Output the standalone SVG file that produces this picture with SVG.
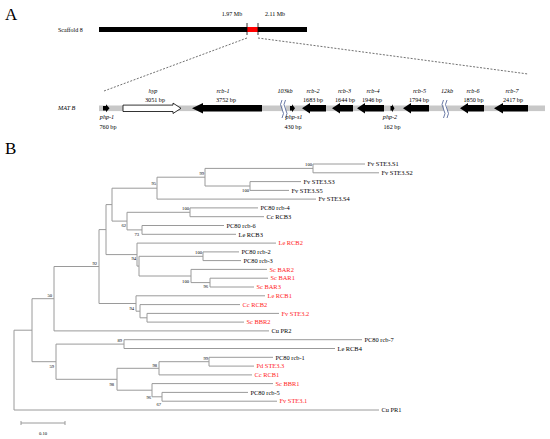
<svg xmlns="http://www.w3.org/2000/svg" width="550" height="439" viewBox="0 0 550 439">
<style>
text{font-family:"Liberation Serif","Times New Roman",serif;fill:#000}
.pl{font-size:17px}
.s{font-size:6px}
.g{font-size:6.2px}
.gi{font-size:6.2px;font-style:italic}
.lf{font-size:6.4px}
.red{fill:#ff1a1a}
.bs{font-size:4.6px;text-anchor:end}
.c{text-anchor:middle}
.tree{stroke:#9a9a9a;stroke-width:1;fill:none}
.blk{fill:#000}
.wave{stroke:#5a6b9c;stroke-width:0.9;fill:none}
</style>
<rect width="550" height="439" fill="#fff"/>

<g id="panelA">
  <text class="pl" x="5" y="20">A</text>
  <g id="scaffold">
    <text class="s" x="58" y="32">Scaffold 8</text>
    <rect x="99" y="27" width="208" height="5" fill="#000"/>
    <rect x="247" y="27" width="11" height="5" fill="#ff0000"/>
    <line x1="247" y1="23" x2="247" y2="35" stroke="#000" stroke-width="0.8"/>
    <line x1="258" y1="23" x2="258" y2="35" stroke="#000" stroke-width="0.8"/>
    <text class="s c" x="232" y="16">1.97 Mb</text>
    <text class="s c" x="275" y="16">2.11 Mb</text>
  </g>
  <g id="zoom-lines" stroke="#333" stroke-width="0.7" stroke-dasharray="2,1.5">
    <line x1="247" y1="38" x2="104" y2="91"/>
    <line x1="258" y1="38" x2="528" y2="74"/>
  </g>
  <g id="matb">
    <text class="gi" x="58" y="110">MAT B</text>
    <rect x="99" y="105.5" width="446" height="5.6" fill="#c8c8c8"/>
    <rect x="282.5" y="104" width="3" height="9" fill="#fff"/>
    <rect x="444" y="104" width="3" height="9" fill="#fff"/>
  </g>
  <g id="php-1">
    <polygon class="blk" points="103,106 106,106 106,104.3 109.5,108.3 106,112.3 106,110.6 103,110.6"/>
    <text class="gi c" x="107" y="119">php-1</text>
    <text class="g c" x="108" y="129">760 bp</text>
  </g>
  <g id="hyp">
    <polygon points="123,105.1 173,105.1 173,103.1 181,108.3 173,113.5 173,111.5 123,111.5" fill="#fff" stroke="#000" stroke-width="0.8"/>
    <text class="gi c" x="153" y="93">hyp</text>
    <text class="g c" x="155" y="102">3051 bp</text>
  </g>
  <g id="rcb-1">
    <polygon class="blk" points="192,108.3 203,103.1 203,105.1 262,105.1 262,111.5 203,111.5 203,113.5"/>
    <text class="gi c" x="223" y="93">rcb-1</text>
    <text class="g c" x="226" y="102">3752 bp</text>
  </g>
  <g id="gap-103kb">
    <path class="wave" d="M282,100 q-3,4.5 0,9 q3,4.5 0,9"/>
    <path class="wave" d="M285.5,100 q-3,4.5 0,9 q3,4.5 0,9"/>
    <text class="gi c" x="285" y="93">103kb</text>
  </g>
  <g id="php-s1">
    <polygon class="blk" points="290,106 292,106 292,104.3 295,108.3 292,112.3 292,110.6 290,110.6"/>
    <text class="gi c" x="294" y="119">php-s1</text>
    <text class="g c" x="293" y="129">430 bp</text>
  </g>
  <g id="rcb-2">
    <polygon class="blk" points="302,108.3 310,103.1 310,105.1 326,105.1 326,111.5 310,111.5 310,113.5"/>
    <text class="gi c" x="313" y="93">rcb-2</text>
    <text class="g c" x="313" y="102">1683 bp</text>
  </g>
  <g id="rcb-3">
    <polygon class="blk" points="332,108.3 340,103.1 340,105.1 353,105.1 353,111.5 340,111.5 340,113.5"/>
    <text class="gi c" x="344.5" y="93">rcb-3</text>
    <text class="g c" x="345" y="102">1644 bp</text>
  </g>
  <g id="rcb-4">
    <polygon class="blk" points="357,108.3 365,103.1 365,105.1 384,105.1 384,111.5 365,111.5 365,113.5"/>
    <text class="gi c" x="373" y="93">rcb-4</text>
    <text class="g c" x="372" y="102">1946 bp</text>
  </g>
  <g id="php-2">
    <polygon class="blk" points="390.5,106 392,106 392,104.3 394.5,108.3 392,112.3 392,110.6 390.5,110.6"/>
    <text class="gi c" x="390" y="119">php-2</text>
    <text class="g c" x="392" y="129">162 bp</text>
  </g>
  <g id="rcb-5">
    <polygon class="blk" points="403,108.3 411,103.1 411,105.1 429,105.1 429,111.5 411,111.5 411,113.5"/>
    <text class="gi c" x="419.5" y="93">rcb-5</text>
    <text class="g c" x="419" y="102">1794 bp</text>
  </g>
  <g id="gap-12kb">
    <path class="wave" d="M443.5,100 q-3,4.5 0,9 q3,4.5 0,9"/>
    <path class="wave" d="M447,100 q-3,4.5 0,9 q3,4.5 0,9"/>
    <text class="gi c" x="447" y="93">12kb</text>
  </g>
  <g id="rcb-6">
    <polygon class="blk" points="460,108.3 468,103.1 468,105.1 484,105.1 484,111.5 468,111.5 468,113.5"/>
    <text class="gi c" x="473" y="93">rcb-6</text>
    <text class="g c" x="473.5" y="102">1850 bp</text>
  </g>
  <g id="rcb-7">
    <polygon class="blk" points="494,108.3 503,103.1 503,105.1 528,105.1 528,111.5 503,111.5 503,113.5"/>
    <text class="gi c" x="512" y="93">rcb-7</text>
    <text class="g c" x="513" y="102">2417 bp</text>
  </g>
</g>

<g id="panelB">
  <text class="pl" x="5" y="154">B</text>
  <g id="connectors" class="tree">
    <path d="M313,164V172.8M313,164H365M313,172.8H379"/>
    <path d="M250,181.6V190.4M250,181.6H301M250,190.4H289"/>
    <path d="M205,168.4V186M205,168.4H313M205,186H250"/>
    <path d="M157,177.2V199.1M157,177.2H205M157,199.1H316"/>
    <path d="M190,207.9V216.7M190,207.9H258M190,216.7H264"/>
    <path d="M142,225.5V234.3M142,225.5H224M142,234.3H236"/>
    <path d="M127,212.3V229.9M127,212.3H190M127,229.9H142"/>
    <path d="M112,188.2V221.1M112,188.2H157M112,221.1H127"/>
    <path d="M203,251.9V260.6M203,251.9H239M203,260.6H241"/>
    <path d="M210,278.2V287M210,278.2H268M210,287H254"/>
    <path d="M191,269.4V282.6M191,269.4H267M191,282.6H210"/>
    <path d="M139,256.3V276M139,256.3H203M139,276H191"/>
    <path d="M137,243.1V266.1M137,243.1H276M137,266.1H139"/>
    <path d="M106,204.6V254.6M106,204.6H112M106,254.6H137"/>
    <path d="M147,313.4V322.1M147,313.4H279M147,322.1H244"/>
    <path d="M140,304.6V317.8M140,304.6H240M140,317.8H147"/>
    <path d="M136,295.8V311.2M136,295.8H265M136,311.2H140"/>
    <path d="M99,229.6V303.5M99,229.6H106M99,303.5H136"/>
    <path d="M54,266.5V330.9M54,266.5H99M54,330.9H269"/>
    <path d="M124,339.7V348.5M124,339.7H362M124,348.5H335"/>
    <path d="M209,357.3V366.1M209,357.3H273M209,366.1H254"/>
    <path d="M159,361.7V374.9M159,361.7H209M159,374.9H252"/>
    <path d="M162,392.4V401.2M162,392.4H248M162,401.2H277"/>
    <path d="M152,383.6V396.8M152,383.6H273M152,396.8H162"/>
    <path d="M117,368.3V390.2M117,368.3H159M117,390.2H152"/>
    <path d="M56,344.1V379.3M56,344.1H124M56,379.3H117"/>
    <path d="M32,298.7V361.7M32,298.7H54M32,361.7H56"/>
    <path d="M14,330.2V410M14,330.2H32M14,410H379"/>
  </g>
  <g id="leaves" class="lf">
    <text x="367.5" y="166.2">Fv STE3.S1</text>
    <text x="381.5" y="175">Fv STE3.S2</text>
    <text x="303.5" y="183.8">Fv STE3.S3</text>
    <text x="291.5" y="192.6">Fv STE3.S5</text>
    <text x="318.5" y="201.3">Fv STE3.S4</text>
    <text x="260.5" y="210.1">PC80 rcb-4</text>
    <text x="266.5" y="218.9">Cc RCB3</text>
    <text x="226.5" y="227.7">PC80 rcb-6</text>
    <text x="238.5" y="236.5">Le RCB3</text>
    <text class="red" x="278.5" y="245.3">Le RCB2</text>
    <text x="241.5" y="254.1">PC80 rcb-2</text>
    <text x="243.5" y="262.8">PC80 rcb-3</text>
    <text class="red" x="269.5" y="271.6">Sc BAR2</text>
    <text class="red" x="270.5" y="280.4">Sc BAR1</text>
    <text class="red" x="256.5" y="289.2">Sc BAR3</text>
    <text class="red" x="267.5" y="298">Le RCB1</text>
    <text class="red" x="242.5" y="306.8">Cc RCB2</text>
    <text class="red" x="281.5" y="315.6">Fv STE3.2</text>
    <text class="red" x="246.5" y="324.3">Sc BBR2</text>
    <text x="271.5" y="333.1">Cu PR2</text>
    <text x="364.5" y="341.9">PC80 rcb-7</text>
    <text x="337.5" y="350.7">Le RCB4</text>
    <text x="275.5" y="359.5">PC80 rcb-1</text>
    <text class="red" x="256.5" y="368.3">Pd STE3.3</text>
    <text class="red" x="254.5" y="377.1">Cc RCB1</text>
    <text class="red" x="275.5" y="385.8">Sc BBR1</text>
    <text x="250.5" y="394.6">PC80 rcb-5</text>
    <text class="red" x="279.5" y="403.4">Fv STE3.1</text>
    <text x="381.5" y="412.2">Cu PR1</text>
  </g>
  <g id="bootstrap" class="bs">
    <text x="312" y="166">100</text>
    <text x="204" y="174.5">99</text>
    <text x="156" y="185">95</text>
    <text x="249" y="192">100</text>
    <text x="189" y="210">100</text>
    <text x="126" y="227">62</text>
    <text x="139" y="236">73</text>
    <text x="202" y="254">100</text>
    <text x="136" y="260">94</text>
    <text x="189" y="282.5">100</text>
    <text x="208" y="287.5">96</text>
    <text x="97" y="264.5">92</text>
    <text x="52" y="297">50</text>
    <text x="134" y="309.5">94</text>
    <text x="122" y="342">89</text>
    <text x="54" y="368">59</text>
    <text x="208" y="359.5">99</text>
    <text x="157" y="367">98</text>
    <text x="114" y="386">98</text>
    <text x="151" y="399">96</text>
    <text x="161" y="405.5">67</text>
  </g>
  <g id="scalebar">
    <path class="tree" d="M21,423H65M21,421V425M65,421V425"/>
    <text class="bs c" x="43" y="435" style="text-anchor:middle">0.10</text>
  </g>
</g>
</svg>
